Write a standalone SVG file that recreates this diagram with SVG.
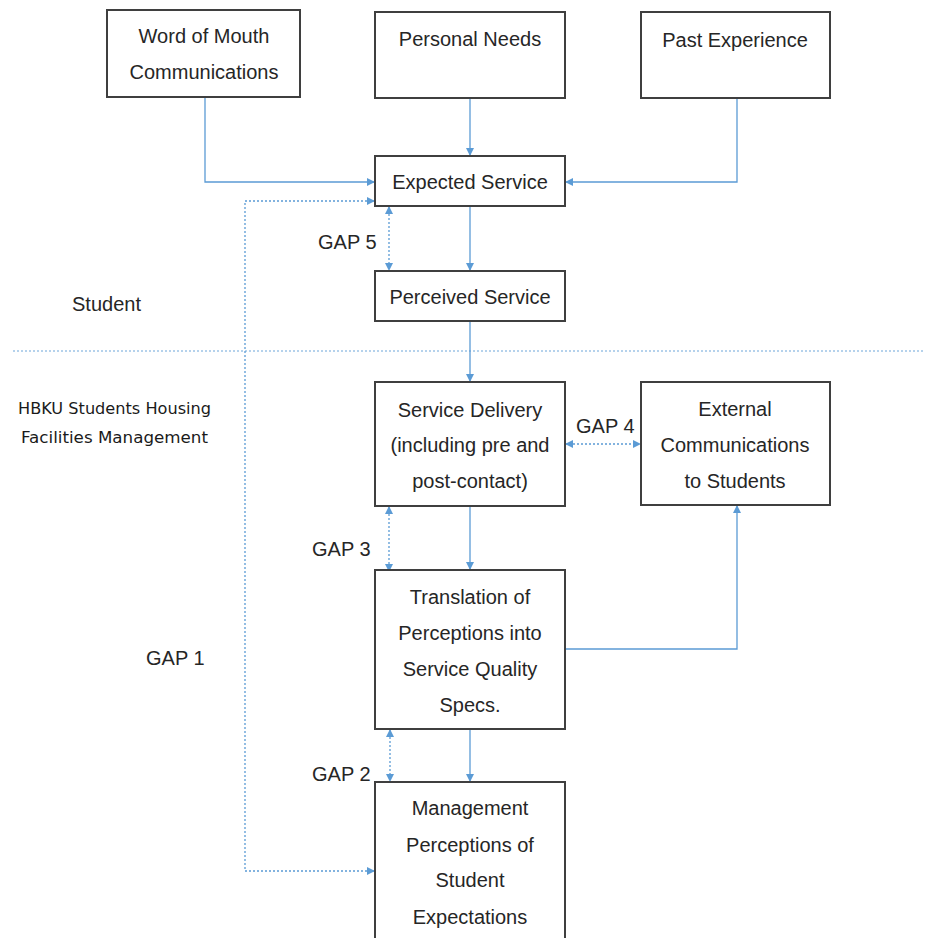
<svg xmlns="http://www.w3.org/2000/svg" width="925" height="938" viewBox="0 0 925 938">
<defs>
<style>
.box{fill:#fff;stroke:#3f3f3f;stroke-width:2}
.t{font-family:"Liberation Sans",Arial,sans-serif;font-size:20px;fill:#262626;text-anchor:middle}
.lab{font-family:"Liberation Sans",Arial,sans-serif;font-size:20px;fill:#262626}
.small{font-family:"DejaVu Sans",Verdana,sans-serif;font-size:16px;fill:#1a1a1a}
.c{fill:none;stroke:#5b9bd5;stroke-width:1.3}
.d{fill:none;stroke:#5b9bd5;stroke-width:1.3;stroke-dasharray:2 2}
.sep{fill:none;stroke:#9dc3e6;stroke-width:1.3;stroke-dasharray:2 2}
</style>
<marker id="a" viewBox="0 0 10 10" refX="10" refY="5" markerWidth="8" markerHeight="8" markerUnits="userSpaceOnUse" orient="auto-start-reverse">
<path d="M0,0 L10,5 L0,10 z" fill="#5b9bd5"/>
</marker>
</defs>
<rect width="925" height="938" fill="#fff"/>

<line class="sep" x1="13" y1="351" x2="925" y2="351"/>

<g id="connectors">
<polyline class="c" points="205,97 205,182 375,182" marker-end="url(#a)"/>
<line class="c" x1="470" y1="98" x2="470" y2="156" marker-end="url(#a)"/>
<polyline class="c" points="737,98 737,182 565,182" marker-end="url(#a)"/>
<line class="c" x1="470" y1="206" x2="470" y2="271" marker-end="url(#a)"/>
<line class="c" x1="470" y1="321" x2="470" y2="382" marker-end="url(#a)"/>
<line class="c" x1="470" y1="506" x2="470" y2="570" marker-end="url(#a)"/>
<line class="c" x1="470" y1="729" x2="470" y2="782" marker-end="url(#a)"/>
<polyline class="c" points="565,649 737,649 737,505" marker-end="url(#a)"/>
<line class="d" x1="389" y1="206" x2="389" y2="271" marker-start="url(#a)" marker-end="url(#a)"/>
<line class="d" x1="389" y1="506" x2="389" y2="572" marker-start="url(#a)" marker-end="url(#a)"/>
<line class="d" x1="390" y1="729" x2="390" y2="782" marker-start="url(#a)" marker-end="url(#a)"/>
<line class="d" x1="565" y1="444" x2="641" y2="444" marker-start="url(#a)" marker-end="url(#a)"/>
<polyline class="d" points="375,201 245,201 245,871 375,871" marker-start="url(#a)" marker-end="url(#a)"/>
</g>

<g id="word-of-mouth">
<rect class="box" x="107" y="10" width="193" height="87"/>
<text class="t" x="204" y="43">Word of Mouth</text>
<text class="t" x="204" y="79">Communications</text>
</g>
<g id="personal-needs">
<rect class="box" x="375" y="12" width="190" height="86"/>
<text class="t" x="470" y="46">Personal Needs</text>
</g>
<g id="past-experience">
<rect class="box" x="641" y="12" width="189" height="86"/>
<text class="t" x="735" y="47">Past Experience</text>
</g>
<g id="expected-service">
<rect class="box" x="375" y="156" width="190" height="50"/>
<text class="t" x="470" y="189">Expected Service</text>
</g>
<g id="perceived-service">
<rect class="box" x="375" y="271" width="190" height="50"/>
<text class="t" x="470" y="304">Perceived Service</text>
</g>
<g id="service-delivery">
<rect class="box" x="375" y="382" width="190" height="124"/>
<text class="t" x="470" y="417">Service Delivery</text>
<text class="t" x="470" y="452">(including pre and</text>
<text class="t" x="470" y="488">post-contact)</text>
</g>
<g id="external-communications">
<rect class="box" x="641" y="382" width="189" height="123"/>
<text class="t" x="735" y="416">External</text>
<text class="t" x="735" y="452">Communications</text>
<text class="t" x="735" y="488">to Students</text>
</g>
<g id="translation">
<rect class="box" x="375" y="570" width="190" height="159"/>
<text class="t" x="470" y="604">Translation of</text>
<text class="t" x="470" y="640">Perceptions into</text>
<text class="t" x="470" y="676">Service Quality</text>
<text class="t" x="470" y="712">Specs.</text>
</g>
<g id="management-perceptions">
<rect class="box" x="375" y="782" width="190" height="170"/>
<text class="t" x="470" y="815">Management</text>
<text class="t" x="470" y="852">Perceptions of</text>
<text class="t" x="470" y="887">Student</text>
<text class="t" x="470" y="924">Expectations</text>
</g>

<g id="labels">
<text class="lab" x="72" y="311">Student</text>
<text class="small" x="18" y="414" textLength="193" lengthAdjust="spacingAndGlyphs">HBKU Students Housing</text>
<text class="small" x="21" y="443" textLength="187" lengthAdjust="spacingAndGlyphs">Facilities Management</text>
<text class="lab" x="318" y="249">GAP 5</text>
<text class="lab" x="576" y="433">GAP 4</text>
<text class="lab" x="312" y="556">GAP 3</text>
<text class="lab" x="312" y="781">GAP 2</text>
<text class="lab" x="146" y="665">GAP 1</text>
</g>
</svg>
